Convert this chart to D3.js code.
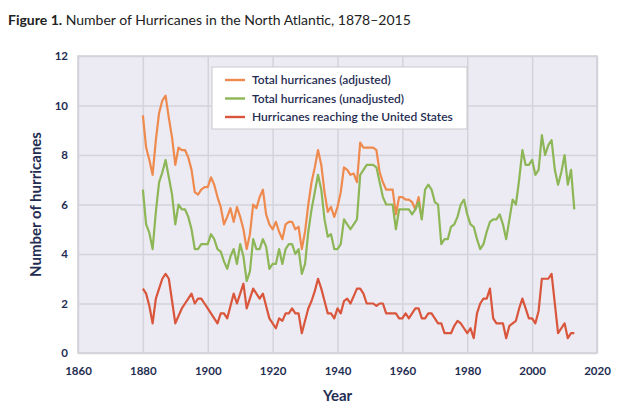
<!DOCTYPE html>
<html>
<head>
<meta charset="utf-8">
<script src="https://cdn.jsdelivr.net/npm/d3@7"></script>
<style>
    body { margin: 0; background: #ffffff; }
    #space { width: 629px; height: 411px; }
</style>
</head>
<body>
<div id="space"></div>
<script>

// first year of every series, one value per year after that
var first_year = 1880;

// Total hurricanes (adjusted), 1880-1966 (same as unadjusted afterwards)
var adjusted = [
    9.6, 8.3, 7.8, 7.2, 8.6, 9.7, 10.2, 10.4, 9.5, 8.7,
    7.6, 8.3, 8.2, 8.2, 7.9, 7.4, 6.5, 6.4, 6.6, 6.7,
    6.7, 7.1, 6.8, 6.3, 5.9, 5.2, 5.5, 5.85, 5.3, 5.9,
    5.5, 5.0, 4.2, 4.8, 6.0, 5.85, 6.3, 6.6, 5.6, 5.2,
    5.0, 5.3, 4.9, 4.6, 5.2, 5.3, 5.3, 5.0, 5.1, 4.2,
    4.9, 6.0, 6.9, 7.5, 8.2, 7.6, 6.5, 5.7, 5.9, 5.5,
    5.9, 6.5, 7.5, 7.4, 7.2, 7.25, 6.9, 8.5, 8.3, 8.3,
    8.3, 8.3, 8.2, 7.3, 6.9, 6.6, 6.6, 6.6, 5.6, 6.3,
    6.3, 6.2, 6.2, 6.1, 5.8, 6.3, 5.4
];

// Total hurricanes (unadjusted), 1880-2013
var unadjusted = [
    6.6, 5.2, 4.85, 4.2, 5.7, 6.9, 7.3, 7.8, 7.1, 6.4,
    5.2, 6.0, 5.8, 5.8, 5.5, 5.0, 4.2, 4.2, 4.4, 4.4,
    4.4, 4.8, 4.6, 4.2, 4.1, 3.7, 3.4, 3.9, 4.2, 3.6,
    4.4, 3.9, 2.9, 3.3, 4.6, 4.2, 4.2, 4.6, 4.3, 3.4,
    3.6, 3.6, 4.2, 3.6, 4.2, 4.4, 4.4, 4.0, 4.2, 3.2,
    3.6, 4.9, 5.8, 6.5, 7.2, 6.6, 5.4, 4.7, 4.8, 4.2,
    4.2, 4.4, 5.4, 5.2, 5.0, 5.2, 5.4, 7.2, 7.4, 7.6,
    7.6, 7.6, 7.5, 6.9, 6.3, 6.0, 6.0, 6.0, 5.0, 5.8,
    5.8, 5.8, 5.8, 5.6, 5.8, 6.1, 5.4, 6.6, 6.8, 6.6,
    6.1, 6.0, 4.4, 4.6, 4.6, 5.1, 5.2, 5.5, 6.0, 6.2,
    5.6, 5.2, 5.1, 4.6, 4.2, 4.4, 4.9, 5.3, 5.4, 5.4,
    5.6, 5.2, 4.6, 5.4, 6.2, 6.0, 7.0, 8.2, 7.6, 7.6,
    7.8, 7.2, 7.4, 8.8, 8.0, 8.4, 8.6, 7.4, 6.8, 7.3,
    8.0, 6.8, 7.4, 5.8
];

// Hurricanes reaching the United States, 1880-2013
var reaching_us = [
    2.6, 2.4, 1.9, 1.2, 2.2, 2.6, 3.0, 3.2, 3.0, 2.1,
    1.2, 1.5, 1.8, 2.0, 2.2, 2.4, 2.0, 2.2, 2.2, 2.0,
    1.8, 1.6, 1.4, 1.2, 1.6, 1.6, 1.4, 1.9, 2.4, 2.0,
    2.4, 2.8, 1.8, 2.2, 2.6, 2.4, 2.2, 2.4, 1.9, 1.4,
    1.2, 1.0, 1.4, 1.3, 1.6, 1.6, 1.8, 1.6, 1.6, 0.8,
    1.3, 1.8, 2.1, 2.5, 3.0, 2.6, 2.1, 1.6, 1.6, 1.4,
    1.8, 1.6, 2.1, 2.2, 2.0, 2.3, 2.6, 2.6, 2.4, 2.0,
    2.0, 2.0, 1.9, 2.0, 2.0, 1.6, 1.6, 1.6, 1.6, 1.4,
    1.4, 1.6, 1.4, 1.6, 1.8, 1.8, 1.4, 1.4, 1.6, 1.6,
    1.4, 1.2, 1.2, 0.8, 0.8, 0.8, 1.1, 1.3, 1.2, 1.0,
    0.8, 1.0, 0.6, 1.6, 2.0, 2.2, 2.2, 2.6, 1.4, 1.2,
    1.2, 1.2, 0.6, 1.1, 1.2, 1.3, 1.8, 2.2, 1.8, 1.4,
    1.4, 1.2, 1.7, 3.0, 3.0, 3.0, 3.2, 2.0, 0.8, 1.0,
    1.2, 0.6, 0.8, 0.8
];

var x_ticks = [1860, 1880, 1900, 1920, 1940, 1960, 1980, 2000, 2020];
var y_ticks = [0, 2, 4, 6, 8, 10, 12];

var legend_labels = ["Total hurricanes (adjusted)", "Total hurricanes (unadjusted)", "Hurricanes reaching the United States"];

var svg, x_scale, y_scale;
var navy = "#1f2d52";
var colors = ["#ef8a4e", "#8db656", "#d9553b"];

init();

function init() {
    svg = d3.select("#space").append("svg")
                .attr("width", 629)
                .attr("height", 411)
                .style("font-family", "Lato, 'Open Sans', sans-serif");

    var plot = { left: 78, right: 597, top: 56, bottom: 353 };

    x_scale = d3.scaleLinear().domain([1860, 2020]).range([plot.left, plot.right]);
    y_scale = d3.scaleLinear().domain([0, 12]).range([plot.bottom, plot.top]);

    drawTitle();
    drawPlotArea(plot);

    // orange first, green over it, red on top
    drawSeries(adjusted, colors[0]);
    drawSeries(unadjusted, colors[1]);
    drawSeries(reaching_us, colors[2]);

    drawLegend();
    drawAxisTitles(plot);
}

function drawTitle() {
    var t = svg.append("text")
               .attr("x", 8)
               .attr("y", 25)
               .attr("font-size", 14)
               .attr("fill", "#222");
    t.append("tspan").attr("font-weight", "bold").text("Figure 1.");
    t.append("tspan").text(" Number of Hurricanes in the North Atlantic, 1878\u20132015");
}

function drawPlotArea(plot) {
    svg.append("rect")
       .attr("x", plot.left)
       .attr("y", plot.top)
       .attr("width", plot.right - plot.left)
       .attr("height", plot.bottom - plot.top)
       .attr("fill", "#ecebf3")
       .attr("stroke", "#cfcfd6")
       .attr("stroke-width", 1.5);

    //Grid lines from the axes
    var gx = svg.append("g")
                .attr("transform", "translate(0," + plot.bottom + ")")
                .call(d3.axisBottom(x_scale).tickValues(x_ticks).tickFormat(d3.format("d"))
                        .tickSize(-(plot.bottom - plot.top)).tickPadding(14));
    var gy = svg.append("g")
                .attr("transform", "translate(" + plot.left + ",0)")
                .call(d3.axisLeft(y_scale).tickValues(y_ticks)
                        .tickSize(-(plot.right - plot.left)).tickPadding(10));

    [gx, gy].forEach(function (g) {
        g.select(".domain").remove();
        g.selectAll(".tick line").attr("stroke", "#d3d3da").attr("stroke-width", 1.5);
        g.selectAll(".tick text")
         .attr("fill", navy)
         .attr("font-size", 11.5)
         .attr("font-weight", "bold")
         .attr("font-family", "Lato, sans-serif");
    });
}

function drawSeries(values, color) {
    var line = d3.line()
                 .x(function (d, i) { return x_scale(first_year + i); })
                 .y(function (d) { return y_scale(d); });

    svg.append("path")
       .datum(values)
       .attr("d", line)
       .attr("fill", "none")
       .attr("stroke", color)
       .attr("stroke-width", 2.2)
       .attr("stroke-linejoin", "round");
}

function drawLegend() {
    var g = svg.append("g").attr("transform", "translate(212,67)");

    g.append("rect")
     .attr("width", 255)
     .attr("height", 62)
     .attr("fill", "#ffffff")
     .attr("stroke", "#c9c9cf")
     .attr("stroke-width", 1);

    for (var i = 0; i < legend_labels.length; i++) {
        var y = 13 + i * 18.5;
        g.append("line")
         .attr("x1", 13).attr("x2", 33)
         .attr("y1", y).attr("y2", y)
         .attr("stroke", colors[i])
         .attr("stroke-width", 2.4);
        g.append("text")
         .attr("x", 40)
         .attr("y", y + 4)
         .attr("font-size", 12)
         .attr("font-weight", 600)
         .attr("fill", navy)
         .text(legend_labels[i]);
    }
}

function drawAxisTitles(plot) {
    svg.append("text")
       .attr("x", (plot.left + plot.right) / 2)
       .attr("y", 401)
       .attr("text-anchor", "middle")
       .attr("font-size", 15)
       .attr("font-weight", "bold")
       .attr("fill", navy)
       .text("Year");

    svg.append("text")
       .attr("transform", "translate(41," + (plot.top + plot.bottom) / 2 + ") rotate(-90)")
       .attr("text-anchor", "middle")
       .attr("font-size", 15)
       .attr("font-weight", "bold")
       .attr("fill", navy)
       .text("Number of hurricanes");
}
</script>
</body>
</html>
